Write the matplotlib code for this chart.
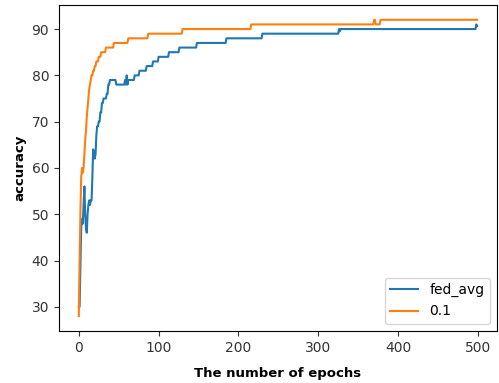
import matplotlib
matplotlib.use("Agg")
import matplotlib.pyplot as plt
import numpy as np

# change points: (epoch, accuracy), value held until next point
fed_avg_epochs = [0, 1, 2, 3, 4, 5, 6, 7, 8, 9, 10, 11, 12, 13, 14, 15, 17, 18, 19, 20,
                  21, 22, 23, 25, 27, 29, 31, 35, 37, 39, 47, 55, 58, 59, 60, 61, 62, 66,
                  70, 76, 85, 93, 100, 113, 126, 148, 185, 230, 326, 327, 328, 497, 498, 499]
fed_avg_acc = [30, 30, 38, 47, 49, 48, 52, 56, 50, 47, 46, 50, 52, 53, 52, 53, 58, 64, 63, 62,
               63, 67, 69, 70, 72, 74, 75, 76, 78, 79, 78, 78, 79, 78, 80, 78, 79, 79,
               80, 81, 82, 83, 84, 85, 86, 87, 88, 89, 90, 89.5, 90, 90, 91, 90.6]

lr01_epochs = [0, 1, 2, 3, 4, 5, 6, 7, 8, 9, 10, 11, 12, 13, 14, 15, 16, 18, 20, 22,
               25, 28, 34, 44, 62, 87, 130, 216, 370, 372, 378, 499]
lr01_acc = [28, 40, 50, 58, 60, 59, 60, 63, 66, 68, 71, 73, 75, 77, 78, 79, 80, 81, 82, 83,
            84, 85, 86, 87, 88, 89, 90, 91, 92, 91, 92, 92]

n_epochs = 500


def hold(epochs, values, n):
    """step-hold the read change points over every epoch"""
    out = np.empty(n)
    for i, e in enumerate(epochs):
        end = epochs[i + 1] if i + 1 < len(epochs) else n
        out[e:end] = values[i]
    return out


x = np.arange(n_epochs)
fed_avg = hold(fed_avg_epochs, fed_avg_acc, n_epochs)
lr01 = hold(lr01_epochs, lr01_acc, n_epochs)

fig = plt.figure(figsize=(4.99, 3.83), dpi=100)
ax = fig.add_axes([0.118, 0.136, 0.878, 0.851])

ax.plot(x, fed_avg, label='fed_avg', color='#1f77b4', linewidth=1.5)
ax.plot(x, lr01, label='0.1', color='#ff7f0e', linewidth=1.5)

ax.set_xticks([0, 100, 200, 300, 400, 500])
ax.set_yticks([30, 40, 50, 60, 70, 80, 90])
ax.tick_params(labelsize=10, colors='#333333')
ax.set_xlabel('The number of epochs', fontweight='bold', fontsize=9.5, labelpad=9)
ax.set_ylabel('accuracy', fontweight='bold', fontsize=9.5, labelpad=4)
ax.legend(loc='lower right', fontsize=10)

fig.savefig('out.png', dpi=100)
